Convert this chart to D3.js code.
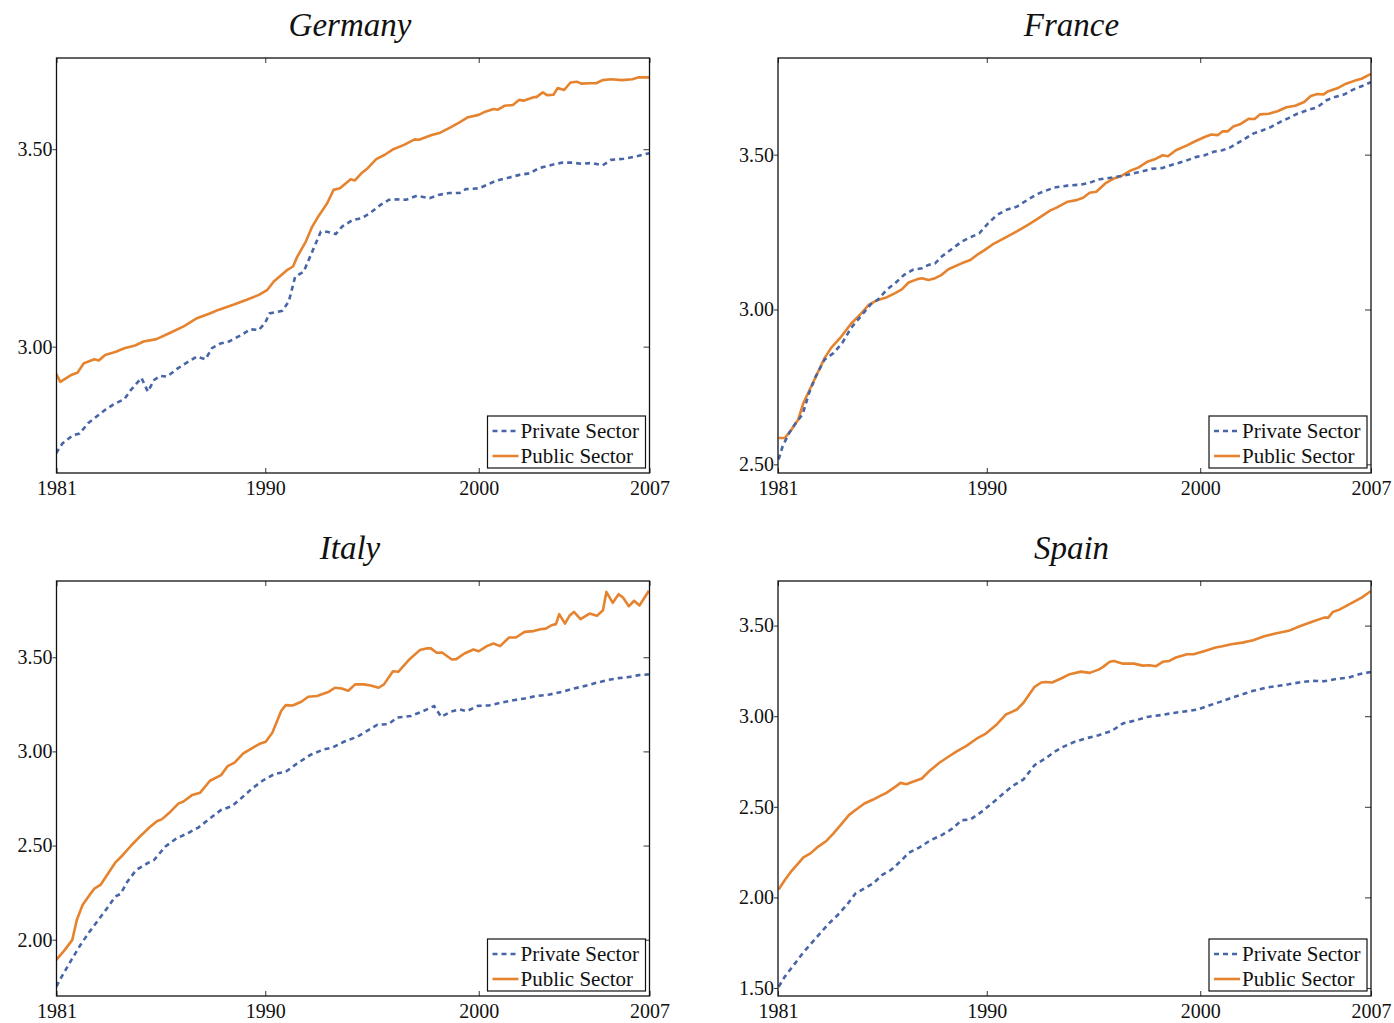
<!DOCTYPE html>
<html>
<head>
<meta charset="utf-8">
<script src="https://cdn.jsdelivr.net/npm/d3@7"></script>
<style>
  body { margin: 0; background: #fff; }
  svg { display: block; font-family: 'Liberation Serif', 'Times New Roman', serif; }
  .tick text { font-family: 'Liberation Serif', 'Times New Roman', serif; font-size: 20px; fill: #111; }
  .tick line { stroke: #333; }
  .domain { stroke: none; }
</style>
</head>
<body>
<svg id="chart" width="1394" height="1023"></svg>
<script>
// ---- data: [year, value] ----
const germanyPublic = [[1980.2,2.932],[1980.4,2.911],[1980.9,2.928],[1981.2,2.934],[1981.5,2.958],[1982.0,2.968],[1982.2,2.965],[1982.5,2.979],[1983.0,2.987],[1983.4,2.996],[1983.9,3.003],[1984.3,3.013],[1984.9,3.019],[1985.5,3.034],[1986.2,3.052],[1986.8,3.072],[1987.4,3.084],[1987.8,3.093],[1988.5,3.106],[1989.1,3.118],[1989.7,3.131],[1990.1,3.144],[1990.4,3.165],[1991.0,3.193],[1991.3,3.203],[1991.5,3.228],[1991.9,3.266],[1992.2,3.304],[1992.5,3.331],[1992.9,3.363],[1993.2,3.397],[1993.5,3.401],[1994.0,3.424],[1994.2,3.421],[1994.5,3.439],[1994.8,3.452],[1995.2,3.475],[1995.6,3.486],[1996.0,3.500],[1996.5,3.511],[1997.0,3.525],[1997.2,3.524],[1997.8,3.536],[1998.2,3.542],[1998.7,3.556],[1999.1,3.568],[1999.5,3.581],[2000.0,3.587],[2000.3,3.595],[2000.7,3.602],[2000.9,3.600],[2001.2,3.610],[2001.6,3.612],[2001.9,3.625],[2002.1,3.623],[2002.6,3.632],[2002.7,3.632],[2003.0,3.644],[2003.2,3.637],[2003.5,3.638],[2003.7,3.655],[2004.0,3.650],[2004.3,3.669],[2004.6,3.671],[2004.8,3.666],[2005.2,3.667],[2005.5,3.667],[2005.8,3.675],[2006.2,3.677],[2006.7,3.675],[2007.2,3.677],[2007.5,3.682],[2008.0,3.682]];
const germanyPrivate = [[1980.2,2.730],[1980.5,2.755],[1981.0,2.776],[1981.3,2.780],[1981.7,2.806],[1982.1,2.823],[1982.5,2.840],[1982.9,2.854],[1983.4,2.867],[1983.7,2.890],[1984.2,2.921],[1984.5,2.886],[1984.8,2.916],[1985.1,2.926],[1985.4,2.924],[1985.9,2.945],[1986.4,2.962],[1986.8,2.975],[1987.2,2.968],[1987.5,2.996],[1987.9,3.008],[1988.3,3.013],[1988.9,3.030],[1989.3,3.044],[1989.7,3.042],[1990.0,3.061],[1990.2,3.084],[1990.8,3.091],[1991.1,3.114],[1991.4,3.177],[1991.8,3.190],[1992.1,3.228],[1992.3,3.253],[1992.6,3.291],[1992.9,3.291],[1993.3,3.285],[1993.6,3.304],[1994.1,3.321],[1994.5,3.325],[1994.9,3.338],[1995.4,3.359],[1995.8,3.372],[1996.2,3.373],[1996.6,3.372],[1997.1,3.382],[1997.7,3.376],[1998.1,3.384],[1998.6,3.389],[1999.1,3.389],[1999.4,3.399],[2000.0,3.401],[2000.4,3.410],[2000.8,3.420],[2001.4,3.428],[2001.9,3.435],[2002.4,3.439],[2002.8,3.452],[2003.4,3.460],[2003.9,3.466],[2004.4,3.466],[2004.8,3.463],[2005.3,3.465],[2005.8,3.459],[2006.2,3.473],[2006.8,3.476],[2007.3,3.481],[2008.0,3.490]];

const francePublic = [[1980.25,2.585],[1980.54,2.585],[1980.86,2.613],[1981.17,2.645],[1981.41,2.698],[1981.78,2.752],[1982.15,2.806],[1982.40,2.843],[1982.71,2.876],[1983.13,2.908],[1983.64,2.954],[1984.06,2.983],[1984.47,3.015],[1984.89,3.031],[1985.30,3.039],[1985.71,3.053],[1986.02,3.065],[1986.34,3.087],[1986.75,3.098],[1986.96,3.101],[1987.27,3.095],[1987.58,3.101],[1987.89,3.112],[1988.20,3.130],[1988.82,3.149],[1989.23,3.160],[1989.54,3.176],[1989.86,3.190],[1990.27,3.210],[1990.89,3.233],[1991.51,3.256],[1991.93,3.273],[1992.34,3.291],[1992.96,3.319],[1993.27,3.329],[1993.79,3.348],[1994.20,3.353],[1994.51,3.361],[1994.82,3.377],[1995.13,3.380],[1995.55,3.407],[1995.96,3.423],[1996.27,3.430],[1996.69,3.447],[1997.10,3.458],[1997.52,3.477],[1997.93,3.487],[1998.24,3.498],[1998.49,3.495],[1998.86,3.514],[1999.38,3.530],[1999.79,3.544],[2000.21,3.557],[2000.52,3.565],[2000.83,3.563],[2001.04,3.575],[2001.28,3.575],[2001.55,3.591],[2001.86,3.598],[2002.28,3.616],[2002.55,3.615],[2002.80,3.630],[2003.21,3.632],[2003.62,3.640],[2004.04,3.653],[2004.45,3.658],[2004.87,3.670],[2005.18,3.689],[2005.49,3.696],[2005.76,3.694],[2006.00,3.705],[2006.42,3.714],[2006.83,3.729],[2007.25,3.739],[2007.56,3.745],[2008.0,3.761]];
const francePrivate = [[1980.25,2.516],[1980.44,2.559],[1980.75,2.602],[1981.06,2.634],[1981.37,2.661],[1981.68,2.731],[1981.99,2.784],[1982.40,2.838],[1982.82,2.859],[1983.23,2.892],[1983.64,2.940],[1984.16,2.983],[1984.58,3.018],[1984.89,3.031],[1985.30,3.063],[1985.71,3.085],[1986.13,3.112],[1986.54,3.128],[1986.96,3.133],[1987.27,3.144],[1987.58,3.149],[1987.89,3.171],[1988.30,3.192],[1988.82,3.219],[1989.23,3.233],[1989.65,3.246],[1990.06,3.278],[1990.48,3.305],[1990.89,3.321],[1991.41,3.332],[1991.93,3.355],[1992.34,3.372],[1992.75,3.383],[1993.17,3.394],[1993.79,3.400],[1994.41,3.403],[1994.82,3.409],[1995.24,3.420],[1995.86,3.426],[1996.48,3.433],[1997.10,3.443],[1997.72,3.454],[1998.24,3.457],[1998.76,3.469],[1999.28,3.479],[1999.79,3.492],[2000.21,3.498],[2000.62,3.509],[2001.04,3.514],[2001.45,3.525],[2001.97,3.546],[2002.48,3.568],[2002.90,3.578],[2003.31,3.589],[2003.73,3.605],[2004.14,3.618],[2004.55,3.632],[2005.07,3.645],[2005.49,3.653],[2005.90,3.675],[2006.31,3.686],[2006.73,3.694],[2007.14,3.709],[2007.56,3.721],[2008.0,3.734]];

const italyPublic = [[1980.21,1.893],[1980.61,1.946],[1980.96,1.999],[1981.17,2.105],[1981.44,2.184],[1981.77,2.238],[1982.01,2.273],[1982.28,2.291],[1982.59,2.344],[1982.97,2.409],[1983.33,2.450],[1983.74,2.503],[1984.16,2.551],[1984.58,2.597],[1984.94,2.630],[1985.15,2.639],[1985.48,2.671],[1985.94,2.724],[1986.15,2.733],[1986.57,2.768],[1986.95,2.781],[1987.41,2.844],[1987.93,2.874],[1988.24,2.922],[1988.56,2.940],[1988.97,2.989],[1989.29,3.011],[1989.71,3.039],[1990.02,3.051],[1990.33,3.099],[1990.75,3.216],[1990.96,3.246],[1991.28,3.244],[1991.69,3.264],[1992.01,3.290],[1992.43,3.294],[1992.95,3.315],[1993.26,3.338],[1993.58,3.334],[1993.89,3.322],[1994.21,3.356],[1994.62,3.356],[1994.94,3.350],[1995.31,3.338],[1995.56,3.356],[1995.98,3.426],[1996.23,3.423],[1996.72,3.485],[1997.24,3.538],[1997.55,3.547],[1997.76,3.547],[1998.03,3.524],[1998.28,3.525],[1998.74,3.488],[1998.95,3.490],[1999.33,3.520],[1999.75,3.541],[2000.00,3.532],[2000.38,3.559],[2000.69,3.573],[2001.00,3.559],[2001.42,3.605],[2001.74,3.605],[2002.15,3.635],[2002.57,3.639],[2002.89,3.649],[2003.14,3.652],[2003.41,3.670],[2003.62,3.676],[2003.77,3.729],[2004.04,3.679],[2004.25,3.720],[2004.46,3.741],[2004.77,3.702],[2005.19,3.732],[2005.54,3.720],[2005.82,3.750],[2005.98,3.847],[2006.28,3.789],[2006.55,3.835],[2006.76,3.817],[2007.03,3.771],[2007.28,3.800],[2007.53,3.775],[2007.97,3.853]];
const italyPrivate = [[1980.21,1.751],[1980.51,1.813],[1980.92,1.893],[1981.34,1.972],[1981.77,2.043],[1982.18,2.105],[1982.59,2.167],[1982.97,2.229],[1983.22,2.243],[1983.54,2.308],[1983.95,2.370],[1984.48,2.406],[1984.79,2.423],[1985.31,2.494],[1985.84,2.538],[1986.36,2.565],[1986.88,2.597],[1987.41,2.644],[1987.93,2.689],[1988.45,2.710],[1988.87,2.751],[1989.39,2.804],[1989.92,2.848],[1990.44,2.880],[1990.96,2.892],[1991.49,2.936],[1992.11,2.981],[1992.74,3.011],[1993.16,3.021],[1993.68,3.051],[1994.31,3.078],[1994.83,3.113],[1995.25,3.142],[1995.77,3.145],[1996.19,3.180],[1996.82,3.188],[1997.34,3.211],[1997.91,3.241],[1998.24,3.184],[1998.70,3.211],[1999.12,3.223],[1999.44,3.214],[1999.96,3.242],[2000.48,3.244],[2001.00,3.258],[2001.63,3.272],[2002.15,3.281],[2002.68,3.294],[2003.31,3.302],[2003.93,3.317],[2004.46,3.334],[2004.98,3.348],[2005.50,3.364],[2006.03,3.379],[2006.55,3.389],[2007.07,3.396],[2007.49,3.405],[2007.97,3.409]];

const spainPublic = [[1980.25,2.044],[1980.54,2.096],[1980.86,2.147],[1981.17,2.188],[1981.41,2.221],[1981.74,2.243],[1982.09,2.279],[1982.50,2.313],[1982.82,2.353],[1983.19,2.404],[1983.54,2.454],[1983.85,2.482],[1984.27,2.518],[1984.68,2.540],[1984.99,2.559],[1985.30,2.577],[1985.71,2.610],[1985.96,2.632],[1986.23,2.625],[1986.54,2.638],[1986.96,2.656],[1987.27,2.693],[1987.78,2.743],[1988.20,2.776],[1988.61,2.807],[1989.03,2.835],[1989.54,2.877],[1989.96,2.904],[1990.48,2.956],[1990.89,3.009],[1991.10,3.020],[1991.41,3.037],[1991.72,3.074],[1992.24,3.162],[1992.55,3.186],[1992.75,3.189],[1993.06,3.186],[1993.48,3.208],[1993.89,3.232],[1994.41,3.246],[1994.82,3.239],[1995.24,3.257],[1995.45,3.272],[1995.76,3.300],[1995.96,3.305],[1996.38,3.290],[1996.89,3.290],[1997.31,3.279],[1997.62,3.281],[1997.93,3.276],[1998.24,3.300],[1998.55,3.305],[1998.86,3.324],[1999.38,3.342],[1999.69,3.342],[2000.21,3.360],[2000.72,3.379],[2001.04,3.386],[2001.45,3.397],[2001.97,3.406],[2002.48,3.419],[2003.00,3.441],[2003.52,3.456],[2004.14,3.471],[2004.66,3.496],[2005.18,3.518],[2005.80,3.544],[2006.00,3.544],[2006.21,3.575],[2006.52,3.588],[2007.04,3.621],[2007.56,3.654],[2008.0,3.691]];
const spainPrivate = [[1980.25,1.507],[1980.54,1.563],[1980.96,1.627],[1981.37,1.691],[1981.78,1.746],[1982.19,1.801],[1982.61,1.857],[1983.02,1.903],[1983.44,1.958],[1983.85,2.022],[1984.27,2.050],[1984.68,2.077],[1985.09,2.123],[1985.51,2.151],[1986.02,2.206],[1986.34,2.246],[1986.85,2.276],[1987.37,2.316],[1987.89,2.344],[1988.41,2.381],[1988.82,2.426],[1989.23,2.430],[1989.75,2.472],[1990.27,2.522],[1990.79,2.574],[1991.20,2.614],[1991.72,2.651],[1992.24,2.730],[1992.75,2.767],[1993.17,2.803],[1993.58,2.831],[1994.10,2.858],[1994.62,2.877],[1995.24,2.895],[1995.86,2.919],[1996.38,2.960],[1997.00,2.978],[1997.52,2.996],[1998.14,3.006],[1998.76,3.018],[1999.38,3.028],[1999.90,3.037],[2000.41,3.059],[2000.93,3.079],[2001.45,3.101],[2001.97,3.121],[2002.48,3.140],[2003.11,3.158],[2003.62,3.167],[2004.14,3.176],[2004.76,3.189],[2005.28,3.195],[2005.80,3.193],[2006.42,3.206],[2006.94,3.213],[2007.45,3.232],[2008.0,3.244]];

// axes
const xDomain = [1980.22, 2008.0];
const xTickYears = [1980.22, 1990, 2000, 2008.0];
const xTickLabels = ['1981', '1990', '2000', '2007'];
const germanyYDomain = [2.68, 3.731], germanyYTicks = [3.0, 3.5];
const franceYDomain = [2.472, 3.812], franceYTicks = [2.5, 3.0, 3.5];
const italyYDomain = [1.701, 3.905], italyYTicks = [2.0, 2.5, 3.0, 3.5];
const spainYDomain = [1.456, 3.746], spainYTicks = [1.5, 2.0, 2.5, 3.0, 3.5];
const seriesNames = ['Private Sector', 'Public Sector'];

const colors = { priv: '#4865a8', pub: '#e5832f' };

const panels = [
  { title: 'Germany', pub: germanyPublic, priv: germanyPrivate, yDomain: germanyYDomain, yTicks: germanyYTicks, x: 56.5, y: 58 },
  { title: 'France', pub: francePublic, priv: francePrivate, yDomain: franceYDomain, yTicks: franceYTicks, x: 778, y: 58 },
  { title: 'Italy', pub: italyPublic, priv: italyPrivate, yDomain: italyYDomain, yTicks: italyYTicks, x: 56.5, y: 581 },
  { title: 'Spain', pub: spainPublic, priv: spainPrivate, yDomain: spainYDomain, yTicks: spainYTicks, x: 778, y: 581 },
];
const W = 593, H = 415;

const svg = d3.select('#chart');
const defs = svg.append('defs');

panels.forEach((p, idx) => {
  const g = svg.append('g').attr('transform', `translate(${p.x},${p.y})`);
  const x = d3.scaleLinear(xDomain, [0, W]);
  const y = d3.scaleLinear(p.yDomain, [H, 0]);

  defs.append('clipPath').attr('id', `clip${idx}`)
    .append('rect').attr('x', 0).attr('y', 0).attr('width', W).attr('height', H);

  // title
  svg.append('text')
    .attr('x', p.x + W / 2 - 3)
    .attr('y', p.y - 22)
    .attr('text-anchor', 'middle')
    .attr('font-size', 33)
    .attr('font-style', 'italic')
    .attr('fill', '#111')
    .text(p.title);

  // axes
  const axes = [
    g.append('g').attr('transform', `translate(0,${H})`)
      .call(d3.axisBottom(x).tickValues(xTickYears).tickFormat((d, i) => xTickLabels[i]).tickSizeInner(-5).tickSizeOuter(0).tickPadding(8)),
    g.append('g')
      .call(d3.axisTop(x).tickValues(xTickYears).tickFormat('').tickSizeInner(-5).tickSizeOuter(0)),
    g.append('g')
      .call(d3.axisLeft(y).tickValues(p.yTicks).tickFormat(d3.format('.2f')).tickSizeInner(4).tickSizeOuter(0).tickPadding(0)),
    g.append('g').attr('transform', `translate(${W},0)`)
      .call(d3.axisRight(y).tickValues(p.yTicks).tickFormat('').tickSizeInner(-6).tickSizeOuter(0)),
  ];
  axes.forEach(a => a.attr('font-family', null));

  const line = d3.line().x(d => x(d[0])).y(d => y(d[1]));
  const plot = g.append('g').attr('clip-path', `url(#clip${idx})`);
  plot.append('path').datum(p.pub)
    .attr('d', line).attr('fill', 'none')
    .attr('stroke', colors.pub).attr('stroke-width', 2.6).attr('stroke-linejoin', 'round');
  plot.append('path').datum(p.priv)
    .attr('d', line).attr('fill', 'none')
    .attr('stroke', colors.priv).attr('stroke-width', 2.6).attr('stroke-dasharray', '5,4');

  // frame
  g.append('rect').attr('width', W).attr('height', H)
    .attr('fill', 'none').attr('stroke', '#111').attr('stroke-width', 1.3);

  // legend
  const lw = 158, lh = 52;
  const leg = g.append('g').attr('transform', `translate(${W - lw - 4},${H - lh - 5})`);
  leg.append('rect').attr('width', lw).attr('height', lh)
    .attr('fill', '#fff').attr('stroke', '#111').attr('stroke-width', 1.2);
  seriesNames.forEach((name, i) => {
    const row = leg.append('g').attr('transform', `translate(0,${15 + i * 25})`);
    row.append('line').attr('x1', 5).attr('x2', 31).attr('y1', 0).attr('y2', 0)
      .attr('stroke', i === 0 ? colors.priv : colors.pub).attr('stroke-width', 2.6)
      .attr('stroke-dasharray', i === 0 ? '5,4' : null);
    row.append('text').attr('x', 33).attr('y', 6.5)
      .attr('font-size', 21).attr('fill', '#111').text(name);
  });
});
</script>
</body>
</html>
